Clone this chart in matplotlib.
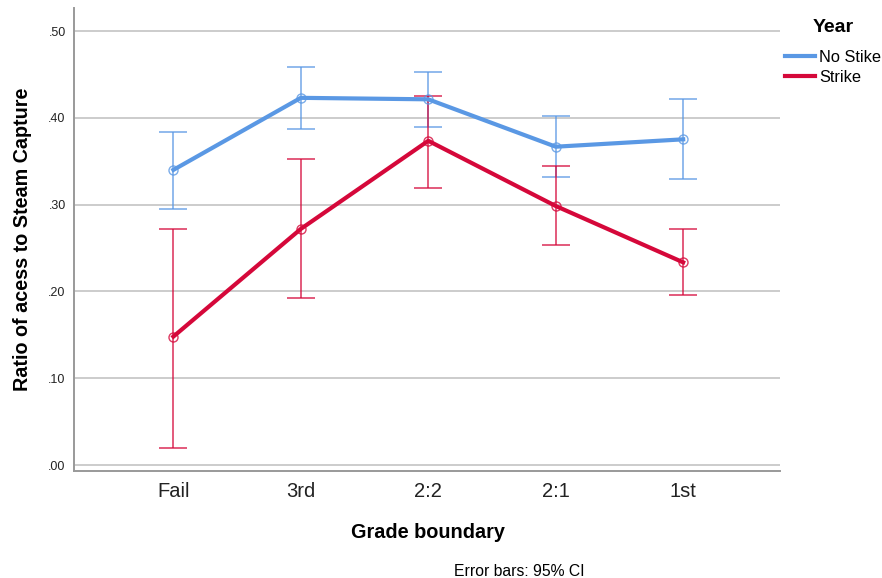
import matplotlib
matplotlib.use("Agg")
import matplotlib.pyplot as plt
import numpy as np

plt.rcParams['font.family'] = ['Liberation Sans', 'DejaVu Sans']

categories = ["Fail", "3rd", "2:2", "2:1", "1st"]
series_names = ["No Stike", "Strike"]
no_strike_mean = [0.340, 0.4230, 0.4213, 0.3667, 0.3752]
no_strike_low = [0.2950, 0.387, 0.3898, 0.3318, 0.3295]
no_strike_high = [0.384, 0.4590, 0.4531, 0.4025, 0.4213]
strike_mean = [0.1480, 0.2720, 0.3735, 0.2984, 0.2335]
strike_low = [0.0199, 0.1927, 0.3195, 0.2535, 0.1958]
strike_high = [0.2715, 0.3520, 0.4255, 0.3448, 0.2719]
y_ticks = [0.0, 0.1, 0.2, 0.3, 0.4, 0.5]
y_tick_labels = [".00", ".10", ".20", ".30", ".40", ".50"]

colors = ["#5a98e4", "#d5083a"]

fig = plt.figure(figsize=(8.82, 5.78), dpi=100)
ax = fig.add_axes([74 / 882, 1 - 471 / 578, 706 / 882, 463 / 578])

x = np.arange(len(categories))
data = [(no_strike_mean, no_strike_low, no_strike_high),
        (strike_mean, strike_low, strike_high)]

for yi in y_ticks:
    ax.axhline(yi, color="#cccccc", lw=1.4, zorder=0)

for (m, lo, hi), c, name in zip(data, colors, series_names):
    m = np.array(m); lo = np.array(lo); hi = np.array(hi)
    ax.errorbar(x, m, yerr=[m - lo, hi - m], fmt="none", ecolor=c,
                elinewidth=1.1, capsize=10, capthick=1.1, alpha=0.85, zorder=2)
    ax.plot(x, m, color=c, lw=3, zorder=3, label=name)
    ax.plot(x, m, ls="none", marker="o", ms=6.5, mfc="none", mec=c,
            mew=1.0, alpha=0.8, zorder=4)

ax.set_xlim(-0.78, 4.76)
ax.set_ylim(-0.0069, 0.5265)
ax.set_xticks(x)
ax.set_xticklabels(categories, fontsize=14.5, color="#222222")
ax.set_yticks(y_ticks)
ax.set_yticklabels(y_tick_labels, fontsize=9, color="#222222")
ax.tick_params(axis="y", length=0, pad=6)
ax.tick_params(axis="x", length=0, pad=8)

for s in ["top", "right"]:
    ax.spines[s].set_visible(False)
for s in ["left", "bottom"]:
    ax.spines[s].set_color("#999999")
    ax.spines[s].set_linewidth(1.4)

ax.set_ylabel("Ratio of acess to Steam Capture", fontsize=14.2, fontweight="bold")
ax.yaxis.set_label_coords(-0.060, 0.5)
ax.set_xlabel("")
fig.text(428 / 882, 1 - 532 / 578, "Grade boundary", fontsize=14.3,
         fontweight="bold", ha="center", va="center")

fig.text(519 / 882, 1 - 571 / 578, "Error bars: 95% CI", fontsize=11.3, ha="center", va="center")

# legend
fig.text(833 / 882, 1 - 28 / 578, "Year", fontsize=14, fontweight="bold",
         ha="center", va="center")
handles, labels = ax.get_legend_handles_labels()
leg = fig.legend(handles, labels, loc="upper left",
                 bbox_to_anchor=(785 / 882, 1 - 50 / 578), frameon=False,
                 fontsize=11.8, handlelength=1.85, handletextpad=0.25,
                 labelspacing=0.3, borderaxespad=0.0, borderpad=0.0)

fig.savefig("out.png", dpi=100)
